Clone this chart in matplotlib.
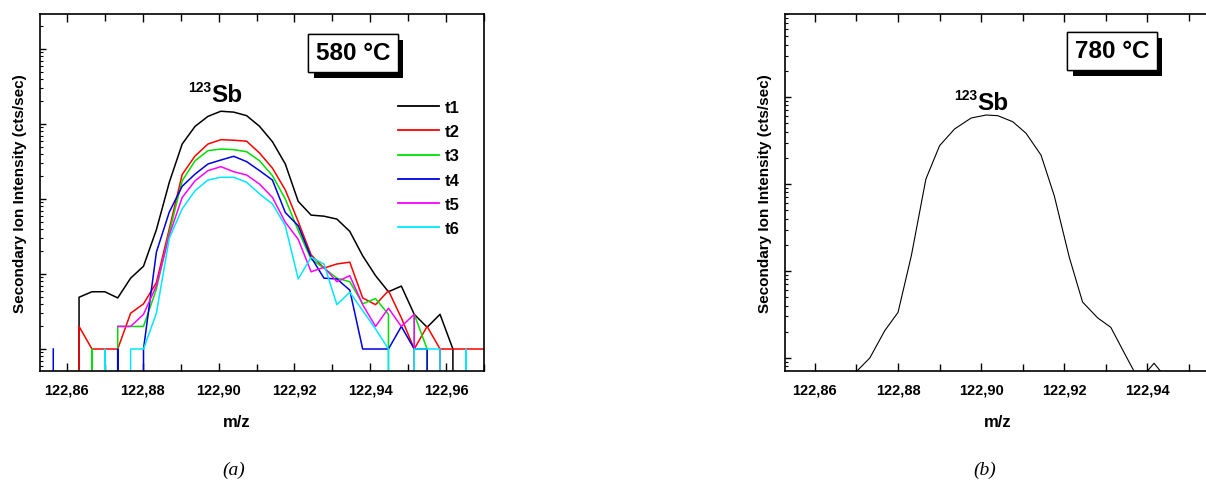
import numpy as np
import matplotlib
matplotlib.use("Agg")
import matplotlib.pyplot as plt
import matplotlib.patheffects as pe
from matplotlib.ticker import MultipleLocator, LogLocator, NullFormatter, FuncFormatter

plt.rcParams['font.family'] = ['Liberation Sans', 'DejaVu Sans']

nan = np.nan

# (a) 580 °C, six acquisitions t1..t6 (0 = no counts, drawn off the log axis)
mz_a = [122.8564, 122.8598, 122.8632, 122.8666, 122.8700, 122.8734, 122.8768, 122.8802,
        122.8836, 122.8870, 122.8904, 122.8938, 122.8972, 122.9006, 122.9040, 122.9074,
        122.9108, 122.9142, 122.9176, 122.9210, 122.9244, 122.9278, 122.9312, 122.9346,
        122.9380, 122.9414, 122.9448, 122.9482, 122.9516, 122.9550, 122.9584, 122.9618,
        122.9652, 122.9686, 122.9720]
t1 = [nan, 0, 4.9, 5.8, 5.8, 4.8, 8.8, 12.7, 39, 167, 541, 931, 1265, 1480, 1440, 1292,
      931, 581, 293, 93, 61, 59, 54, 37, 17.5, 9.5, 5.8, 6.9, 2.9, 1.95, 2.9, 1, 0, nan, nan]
t2 = [nan, 0, 2, 1, 1, 1, 3, 4, 7.7, 40, 212, 375, 541, 618, 608, 590,
      410, 258, 132, 50, 18, 12, 13.6, 14.4, 4.8, 3.9, 6, 2.6, 1, 2, 1, 1, 1, 1, 1]
t3 = [nan, nan, 0, 1, 0, 2, 2, 2, 6.3, 36, 175, 324, 441, 464, 455, 427,
      324, 205, 100, 38, 15.8, 12, 8.8, 7.9, 4, 4.7, 2.9, 0, 2.9, 1, 0, nan, nan, nan, nan]
t4 = [1, 0, 0, 0, 0, 1, 0, 1, 19.6, 67, 148, 215, 293, 331, 371, 315,
      239, 179, 66, 44, 16.7, 8.8, 8.6, 6.1, 1, 1, 1, 2, 1, 1, 0, nan, nan, nan, nan]
t5 = [nan, nan, nan, nan, nan, 2, 2, 2.9, 7, 33, 105, 175, 239, 270, 231, 209,
      158, 105, 49, 29, 10.7, 12.3, 7.9, 9.5, 3.9, 2, 3.5, 2, 2.9, 0, 1, 0, nan, nan, nan]
t6 = [nan, nan, nan, 0, 1, 0, 1, 1, 3, 30, 74, 129, 179, 195, 195, 167,
      117, 86, 44, 8.6, 16.7, 13.6, 3.9, 5.7, 3.25, 1.85, 1, 0, 1, 1, 1, 0, 1, 0, nan]
series_names = ['t1', 't2', 't3', 't4', 't5', 't6']
series_colors = ['#000000', '#ff0000', '#00e000', '#0000e0', '#ff00ff', '#00e8ff']

# (b) 780 °C
mz_b = [122.8700, 122.8732, 122.8768, 122.8800, 122.8832, 122.8867, 122.8900, 122.8936,
        122.8976, 122.9012, 122.9040, 122.9076, 122.9108, 122.9144, 122.9176, 122.9212,
        122.9244, 122.9280, 122.9312, 122.9348, 122.9380, 122.9416, 122.9450]
counts_b = [0.7, 1.0, 2.06, 3.35, 15, 114, 276, 429, 574, 621, 610, 520, 383, 215, 73,
            14.4, 4.4, 2.9, 2.25, 1.06, 0.55, 0.87, 0.55]

W, H = 1206, 485
fig = plt.figure(figsize=(W / 100, H / 100), dpi=100)


def px_rect(x0, y0, x1, y1):
    return [x0 / W, 1 - y1 / H, (x1 - x0) / W, (y1 - y0) / H]


def style(ax, xlim, ylim, xlab_x):
    ax.set_yscale('log')
    ax.set_xlim(*xlim)
    ax.set_ylim(*ylim)
    ax.xaxis.set_major_locator(MultipleLocator(0.02))
    ax.xaxis.set_minor_locator(MultipleLocator(0.01))
    ax.xaxis.set_major_formatter(FuncFormatter(lambda v, p: f'{v:.2f}'.replace('.', ',')))
    ax.yaxis.set_major_locator(LogLocator(base=10, numticks=20))
    ax.yaxis.set_minor_locator(LogLocator(base=10, subs=np.arange(2, 10), numticks=20))
    ax.yaxis.set_major_formatter(NullFormatter())
    ax.yaxis.set_minor_formatter(NullFormatter())
    ax.tick_params(axis='x', which='both', direction='in', top=True, labelsize=10.5, pad=8)
    ax.tick_params(axis='x', which='major', length=6, width=1)
    ax.tick_params(axis='x', which='minor', length=5, width=1)
    ax.tick_params(axis='y', which='major', direction='in', length=4, width=1)
    ax.tick_params(axis='y', which='minor', direction='in', length=2.5, width=0.8)
    for lbl in ax.get_xticklabels():
        lbl.set_fontweight('bold')
    for s in ax.spines.values():
        s.set_linewidth(1.2)
    ax.set_xlabel('m/z', fontsize=12, fontweight='bold', va='top')
    ax.xaxis.set_label_coords(xlab_x, -0.12)
    ax.set_ylabel('Secondary Ion Intensity (cts/sec)', fontsize=11, fontweight='bold')
    ax.yaxis.set_label_coords(-0.03, 0.5)


def temp_box(x, y, s):
    t = fig.text(x / W, 1 - y / H, s, ha='center', va='center', fontsize=17.5, fontweight='bold',
                 bbox=dict(boxstyle='square,pad=0.3', fc='white', ec='black', lw=1))
    t.get_bbox_patch().set_path_effects(
        [pe.withSimplePatchShadow(offset=(4, -4.5), shadow_rgbFace='black', alpha=1), pe.Normal()])


def isotope(x, y):
    fig.text(x / W, 1 - y / H, 'Sb', ha='left', va='baseline', fontsize=17.5, fontweight='bold')
    fig.text(x / W, 1 - (y - 10) / H, '123', ha='right', va='baseline', fontsize=10, fontweight='bold')


# panel (a)
ax1 = fig.add_axes(px_rect(40, 15, 484, 372))
for name, ys, c in zip(series_names, [t1, t2, t3, t4, t5, t6], series_colors):
    ax1.plot(mz_a, ys, color=c, lw=1.1, label=name)
style(ax1, (122.8529, 122.97), (0.509, 29300), 0.444)
leg = ax1.legend(loc='upper left', bbox_to_anchor=(0.807, 0.759), frameon=False,
                 prop={'weight': 'bold', 'size': 12}, handlelength=2.45, handletextpad=0.35,
                 labelspacing=0.55, borderpad=0, borderaxespad=0)
for line in leg.get_lines():
    line.set_linewidth(1.3)

# panel (b): the frame runs off the right edge of the page
ax2 = fig.add_axes(px_rect(785, 15, 1206, 372))
ax2.plot(mz_b, counts_b, color='black', lw=0.8)
style(ax2, (122.8528, 122.9541), (0.709, 9000), 0.506)
ax2.spines['right'].set_visible(False)

temp_box(353, 54, '580 °C')
temp_box(1112, 52, '780 °C')
isotope(211, 101.7)
isotope(977, 110)

fig.text(234 / W, 1 - 470 / H, '(a)', ha='center', va='center', fontsize=14,
         family='Liberation Serif', style='italic')
fig.text(985 / W, 1 - 470 / H, '(b)', ha='center', va='center', fontsize=14,
         family='Liberation Serif', style='italic')

fig.savefig('out.png', dpi=100)
